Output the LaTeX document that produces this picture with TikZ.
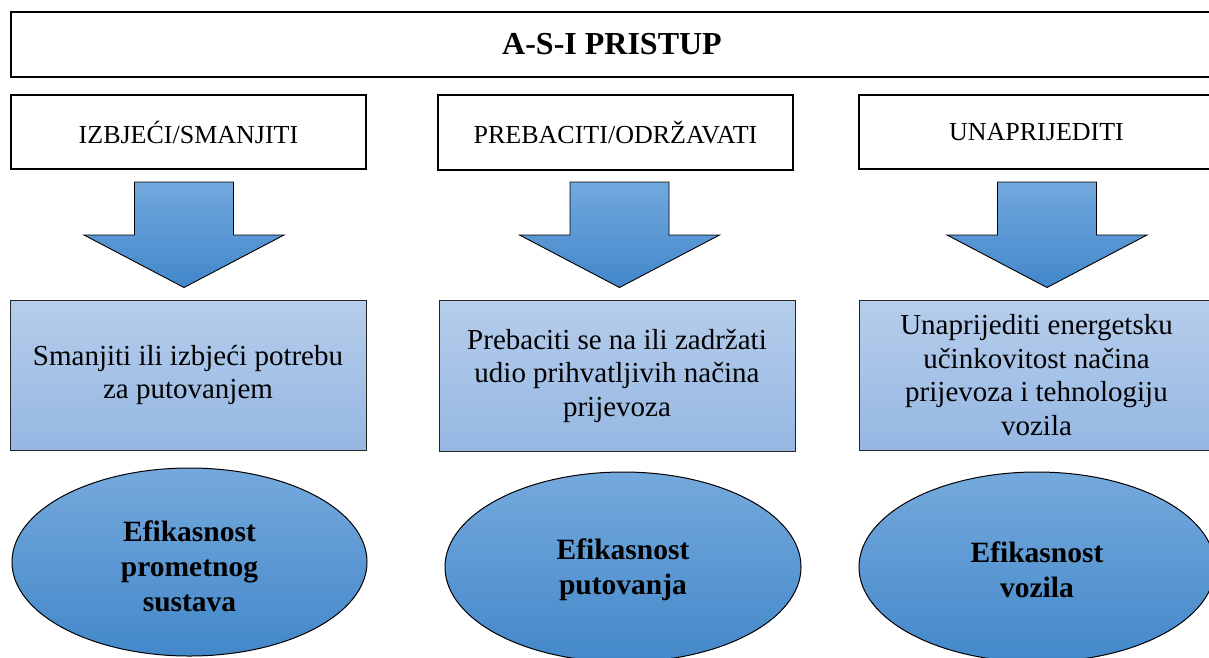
\documentclass[tikz,border=0pt]{standalone}
\usepackage{fontspec}
\setmainfont{Liberation Serif}
\usetikzlibrary{shapes.geometric}
\begin{document}
\begin{tikzpicture}[x=1pt,y=-1pt,
  whitebox/.style={draw=black, line width=2pt, fill=white, inner sep=0pt, font=\fontsize{26}{30}\selectfont},
  bluebox/.style={draw=black!85, line width=1pt, inner sep=0pt, top color=bluetop, bottom color=bluebot,
     align=center, font=\fontsize{29}{33.5}\selectfont},
  blueell/.style={draw=black, line width=1pt, top color=elltop, bottom color=ellbot},
  elltext/.style={font=\fontsize{29.5}{35}\selectfont\bfseries, align=center},
  blockarrow/.style={draw=black, line width=0.9pt, top color=arrtop, bottom color=arrbot}
]
\definecolor{bluetop}{RGB}{182,205,236}
\definecolor{bluebot}{RGB}{149,183,226}
\definecolor{elltop}{RGB}{117,169,220}
\definecolor{ellbot}{RGB}{67,136,202}
\definecolor{arrtop}{RGB}{114,168,222}
\definecolor{arrbot}{RGB}{66,135,202}
\useasboundingbox (0,0) rectangle (1209,657);
\clip (0,0) rectangle (1209,657);
\fill[white] (0,0) rectangle (1209,657);

% title
\node[whitebox, minimum width=1202pt, minimum height=65pt, font=\fontsize{32}{36}\selectfont\bfseries]
  (title) at (612,44.5) {A-S-I PRISTUP};

% second row
\node[whitebox, minimum width=355pt, minimum height=74pt] (h1) at (188.5,132) {IZBJEĆI/SMANJITI};
\node[whitebox, minimum width=355pt, minimum height=75pt] (h2) at (615.5,132.5) {PREBACITI/ODRŽAVATI};
\node[whitebox, minimum width=355pt, minimum height=74pt] (h3) at (1036.5,132) {UNAPRIJEDITI};

% block arrows
\foreach \cx in {184, 619.5, 1047}{
  \path[blockarrow] (\cx-49.5,182) -- (\cx+49.5,182) -- (\cx+49.5,235) -- (\cx+100,235)
     -- (\cx,287.5) -- (\cx-100,235) -- (\cx-49.5,235) -- cycle;
}

% blue boxes
\node[bluebox, minimum width=356pt, minimum height=150pt] (b1) at (188,375)
  {Smanjiti ili izbjeći potrebu\\za putovanjem};
\node[bluebox, minimum width=356pt, minimum height=151pt] (b2) at (617,375.5)
  {Prebaciti se na ili zadržati\\udio prihvatljivih načina\\prijevoza};
\node[bluebox, minimum width=355pt, minimum height=150pt] (b3) at (1036.5,375)
  {Unaprijediti energetsku\\učinkovitost načina\\prijevoza i tehnologiju\\vozila};

% ellipses
\path[blueell] (189.5,562) ellipse [x radius=177.5pt, y radius=94pt];
\node[elltext] (e1) at (189.5,566) {Efikasnost\\prometnog\\sustava};
\path[blueell] (623,567) ellipse [x radius=178pt, y radius=95pt];
\node[elltext] (e2) at (623,570) {Efikasnost\\putovanja};
\path[blueell] (1037,567) ellipse [x radius=178pt, y radius=95pt];
\node[elltext] (e3) at (1037,570) {Efikasnost\\vozila};
\end{tikzpicture}
\end{document}
